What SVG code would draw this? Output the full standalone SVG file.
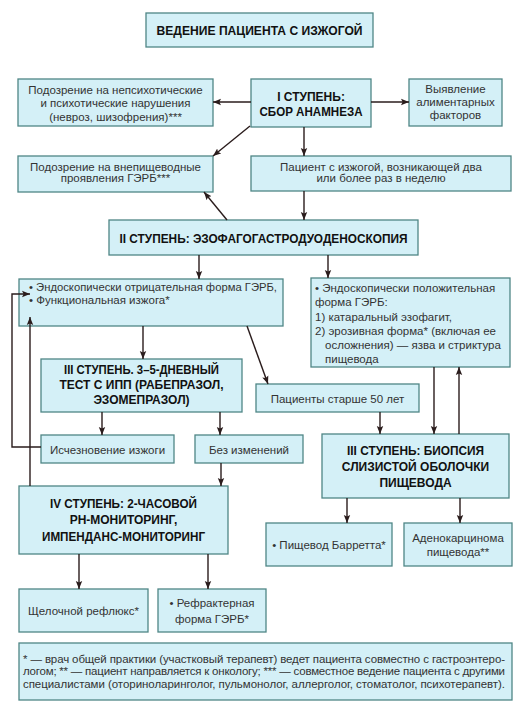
<svg xmlns="http://www.w3.org/2000/svg" width="529" height="714" viewBox="0 0 529 714">
<style>
.box{fill:#d4f0f7;stroke:#4f8686;stroke-width:1.3}
.t{font-family:"Liberation Sans",Arial,sans-serif;font-size:11.5px;fill:#333;}
.c{text-anchor:middle}
.b{font-family:"Liberation Sans",Arial,sans-serif;font-size:12px;font-weight:bold;fill:#111;text-anchor:middle}
.ln{stroke:#2a1c1c;stroke-width:1.4;fill:none}
</style>
<defs>
<marker id="ah" viewBox="0 0 10 10" refX="10" refY="5" markerWidth="8" markerHeight="8" markerUnits="userSpaceOnUse" orient="auto">
<path d="M0,1 L10,5 L0,9 L2,5 Z" fill="#2a1c1c"/>
</marker>
</defs>
<rect width="529" height="714" fill="#ffffff"/>
<g id="title"><rect class="box" x="146" y="13" width="227" height="34"/><text class="b" x="259.5" y="35" font-size="13" textLength="206" lengthAdjust="spacingAndGlyphs">ВЕДЕНИЕ ПАЦИЕНТА С ИЗЖОГОЙ</text></g>
<g id="n-psy"><rect class="box" x="18" y="79" width="195" height="47"/>
<text class="t c" x="115.5" y="94">Подозрение на непсихотические</text>
<text class="t c" x="115.5" y="107">и психотические нарушения</text>
<text class="t c" x="115.5" y="120.5">(невроз, шизофрения)***</text></g>
<g id="n-step1"><rect class="box" x="251" y="79" width="120" height="48"/>
<text class="b" x="311" y="101">I СТУПЕНЬ:</text>
<text class="b" x="311" y="115.5" textLength="103" lengthAdjust="spacingAndGlyphs">СБОР АНАМНЕЗА</text></g>
<g id="n-alim"><rect class="box" x="409" y="79" width="93" height="47"/>
<text class="t c" x="455.5" y="93">Выявление</text>
<text class="t c" x="455.5" y="106">алиментарных</text>
<text class="t c" x="455.5" y="119">факторов</text></g>
<g id="n-extra"><rect class="box" x="18" y="156" width="195" height="36"/>
<text class="t c" x="115.5" y="171">Подозрение на внепищеводные</text>
<text class="t c" x="115.5" y="182">проявления ГЭРБ***</text></g>
<g id="n-twice"><rect class="box" x="251" y="156" width="260" height="35"/>
<text class="t c" x="381" y="171">Пациент с изжогой, возникающей два</text>
<text class="t c" x="381" y="182">или более раз в неделю</text></g>
<g id="n-step2"><rect class="box" x="109" y="220" width="309" height="35"/>
<text class="b" x="263.5" y="242.5" textLength="288" lengthAdjust="spacingAndGlyphs">II СТУПЕНЬ: ЭЗОФАГОГАСТРОДУОДЕНОСКОПИЯ</text></g>
<g id="n-neg"><rect class="box" x="19" y="279" width="264" height="47"/>
<text class="t" x="29" y="291" textLength="248" lengthAdjust="spacingAndGlyphs">• Эндоскопически отрицательная форма ГЭРБ,</text>
<text class="t" x="29" y="303.5">• Функциональная изжога*</text></g>
<g id="n-pos"><rect class="box" x="311" y="278" width="199" height="89"/>
<text class="t" x="315" y="292">• Эндоскопически положительная</text>
<text class="t" x="315" y="306">форма ГЭРБ:</text>
<text class="t" x="315" y="321">1) катаральный эзофагит,</text>
<text class="t" x="315" y="335">2) эрозивная форма* (включая ее</text>
<text class="t" x="325" y="349">осложнения) — язва и стриктура</text>
<text class="t" x="325" y="362.5">пищевода</text></g>
<g id="n-step3test"><rect class="box" x="41" y="359" width="201" height="53"/>
<text class="b" x="141.5" y="373.5" textLength="155" lengthAdjust="spacingAndGlyphs">III СТУПЕНЬ. 3–5-ДНЕВНЫЙ</text>
<text class="b" x="141.5" y="388.5">ТЕСТ С ИПП (РАБЕПРАЗОЛ,</text>
<text class="b" x="141.5" y="404">ЭЗОМЕПРАЗОЛ)</text></g>
<g id="n-age"><rect class="box" x="256" y="384" width="163" height="28"/>
<text class="t c" x="337.5" y="402.5">Пациенты старше 50 лет</text></g>
<g id="n-gone"><rect class="box" x="41" y="435" width="133" height="28"/>
<text class="t c" x="107.5" y="453.5">Исчезновение изжоги</text></g>
<g id="n-nochange"><rect class="box" x="195" y="435" width="108" height="28"/>
<text class="t c" x="249" y="453.5">Без изменений</text></g>
<g id="n-biopsy"><rect class="box" x="322" y="434" width="187" height="64"/>
<text class="b" x="415.5" y="455" textLength="137" lengthAdjust="spacingAndGlyphs">III СТУПЕНЬ: БИОПСИЯ</text>
<text class="b" x="415.5" y="471">СЛИЗИСТОЙ ОБОЛОЧКИ</text>
<text class="b" x="415.5" y="487">ПИЩЕВОДА</text></g>
<g id="n-step4"><rect class="box" x="19" y="486" width="209" height="68"/>
<text class="b" x="123.5" y="507.5" textLength="147" lengthAdjust="spacingAndGlyphs">IV СТУПЕНЬ: 2-ЧАСОВОЙ</text>
<text class="b" x="123.5" y="524">PH-МОНИТОРИНГ,</text>
<text class="b" x="123.5" y="541" textLength="163" lengthAdjust="spacingAndGlyphs">ИМПЕНДАНС-МОНИТОРИНГ</text></g>
<g id="n-barrett"><rect class="box" x="266" y="523" width="126" height="43"/>
<text class="t c" x="329" y="548.5">• Пищевод Барретта*</text></g>
<g id="n-adeno"><rect class="box" x="404" y="523" width="108" height="43"/>
<text class="t c" x="458" y="542">Аденокарцинома</text>
<text class="t c" x="458" y="556">пищевода**</text></g>
<g id="n-alkaline"><rect class="box" x="19" y="589" width="129" height="43"/>
<text class="t c" x="83.5" y="614.5">Щелочной рефлюкс*</text></g>
<g id="n-refr"><rect class="box" x="158" y="589" width="108" height="43"/>
<text class="t c" x="212" y="607">• Рефрактерная</text>
<text class="t c" x="212" y="623">форма ГЭРБ*</text></g>
<g id="footnote"><rect class="box" x="19" y="643" width="493" height="57"/>
<text class="t" x="23" y="662.5" font-size="10" textLength="482" lengthAdjust="spacing">* — врач общей практики (участковый терапевт) ведет пациента совместно с гастроэнтеро-</text>
<text class="t" x="23" y="675" font-size="10" textLength="482" lengthAdjust="spacing">логом; ** — пациент направляется к онкологу; *** — совместное ведение пациента с другими</text>
<text class="t" x="23" y="687.5" font-size="10" textLength="482" lengthAdjust="spacing">специалистами (оториноларинголог, пульмонолог, аллерголог, стоматолог, психотерапевт).</text></g>
<g id="connectors" class="ln">
<line class="ln" x1="251" y1="102" x2="213" y2="102" marker-end="url(#ah)"/>
<line class="ln" x1="371" y1="102" x2="409" y2="102" marker-end="url(#ah)"/>
<line class="ln" x1="250" y1="126" x2="213" y2="156" marker-end="url(#ah)"/>
<line class="ln" x1="304" y1="127" x2="304" y2="156" marker-end="url(#ah)"/>
<line class="ln" x1="227" y1="220" x2="204" y2="192" marker-end="url(#ah)"/>
<line class="ln" x1="304" y1="191" x2="304" y2="220" marker-end="url(#ah)"/>
<line class="ln" x1="199" y1="255" x2="199" y2="279" marker-end="url(#ah)"/>
<line class="ln" x1="328" y1="255" x2="328" y2="278" marker-end="url(#ah)"/>
<line class="ln" x1="143" y1="326" x2="143" y2="359" marker-end="url(#ah)"/>
<line class="ln" x1="247" y1="326" x2="268" y2="384" marker-end="url(#ah)"/>
<line class="ln" x1="434" y1="367" x2="434" y2="434" marker-end="url(#ah)"/>
<line class="ln" x1="459" y1="434" x2="459" y2="367" marker-end="url(#ah)"/>
<line class="ln" x1="102" y1="412" x2="102" y2="435" marker-end="url(#ah)"/>
<line class="ln" x1="220" y1="412" x2="220" y2="435" marker-end="url(#ah)"/>
<line class="ln" x1="380" y1="412" x2="380" y2="434" marker-end="url(#ah)"/>
<polyline class="ln" points="41,447 12,447 12,294 30,294" marker-end="url(#ah)"/>
<line class="ln" x1="30" y1="486" x2="30" y2="317" marker-end="url(#ah)"/>
<line class="ln" x1="221" y1="463" x2="221" y2="486" marker-end="url(#ah)"/>
<line class="ln" x1="347" y1="498" x2="347" y2="523" marker-end="url(#ah)"/>
<line class="ln" x1="460" y1="498" x2="460" y2="523" marker-end="url(#ah)"/>
<line class="ln" x1="79" y1="554" x2="79" y2="589" marker-end="url(#ah)"/>
<line class="ln" x1="208" y1="554" x2="208" y2="589" marker-end="url(#ah)"/>
</g>
</svg>
